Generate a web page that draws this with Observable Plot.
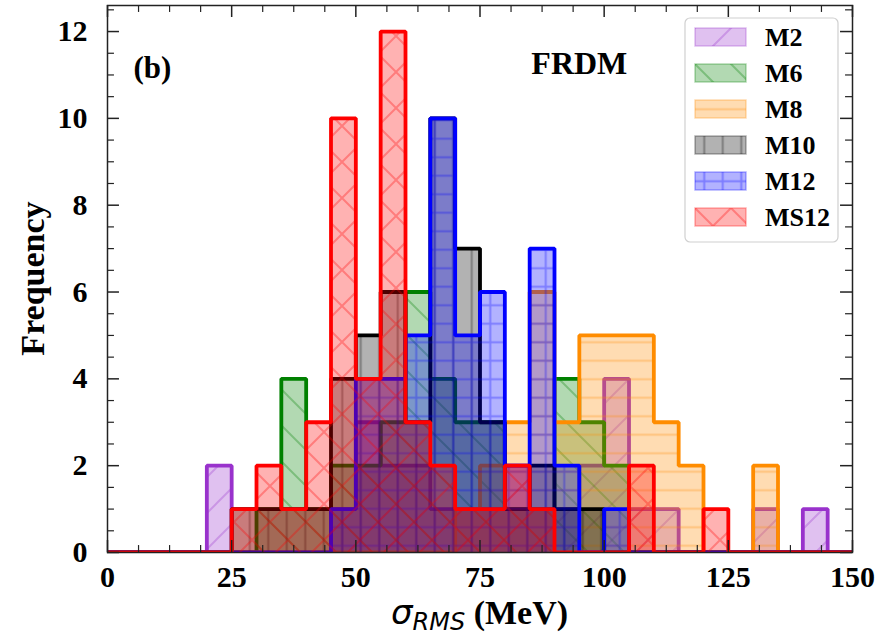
<!DOCTYPE html>
<html>
<head>
<meta charset="utf-8">
<script src="https://cdn.jsdelivr.net/npm/d3@7"></script>
<script src="https://cdn.jsdelivr.net/npm/@observablehq/plot@0.6"></script>
<style>
  body { margin: 0; background: #fff; }
  #chart { width: 887px; height: 636px; }
</style>
</head>
<body>
<div id="chart"></div>
<script>
// Histogram bins: 30 bins of 5 MeV from 0 to 150
const binStarts = d3.range(0, 150, 5);

// Counts per bin for each model
const countsM2   = [0,0,0,0,2,0,0,0,0,1,3,2,2,1,1,1,2,1,1,2,4,1,1,0,0,0,1,0,1,0];
const countsM6   = [0,0,0,0,0,0,1,4,1,2,2,3,6,4,3,3,1,1,4,3,2,0,0,0,0,0,0,0,0,0];
const countsM8   = [0,0,0,0,0,0,0,0,0,0,0,0,0,0,1,2,3,6,3,5,5,5,3,2,0,0,2,0,0,0];
const countsM10  = [0,0,0,0,0,1,1,1,1,4,5,6,3,10,7,3,1,2,1,1,0,0,0,0,0,0,0,0,0,0];
const countsM12  = [0,0,0,0,0,0,0,0,0,1,4,4,5,10,5,6,2,7,2,0,1,0,0,0,0,0,0,0,0,0];
const countsMS12 = [0,0,0,0,0,1,2,1,3,10,4,12,3,2,1,1,2,1,0,0,0,2,0,0,1,0,0,0,0,0];

const seriesNames  = ["M2", "M6", "M8", "M10", "M12", "MS12"];
const seriesColors = ["#9932cc", "#008000", "#ff8c00", "#000000", "#0000ff", "#ff0000"];
const seriesHatch  = ["ne", "nw", "horiz", "vert", "plus", "cross"];
const seriesCounts = [countsM2, countsM6, countsM8, countsM10, countsM12, countsMS12];

const xTickLabels = [0, 25, 50, 75, 100, 125, 150];
const yTickLabels = [0, 2, 4, 6, 8, 10, 12];
const xMinor = d3.range(0, 150.01, 6.25).filter(v => v % 25 !== 0);
const yMinor = d3.range(0, 12.6, 0.5).filter(v => v % 2 !== 0);

const X_MAX = 150, Y_MAX = 12.6;

// area points: one per bin start, plus the closing edge at 150
function areaPoints(counts) {
  const pts = binStarts.map((x, i) => ({x, y: counts[i]}));
  pts.push({x: X_MAX, y: counts[counts.length - 1]});
  return pts;
}
// outline points: the step path from the baseline, across the bins, back down
function outlinePoints(counts) {
  const pts = [{x: 0, y: 0}];
  binStarts.forEach((x, i) => pts.push({x, y: counts[i]}));
  pts.push({x: X_MAX, y: counts[counts.length - 1]});
  pts.push({x: X_MAX, y: 0});
  return pts;
}

const histMarks = [];
seriesNames.forEach((name, s) => {
  const col = seriesColors[s];
  const ap = areaPoints(seriesCounts[s]);
  histMarks.push(
    Plot.areaY(ap, {x: "x", y: "y", curve: "step-after", fill: col, fillOpacity: 0.3, clip: true}),
    Plot.areaY(ap, {x: "x", y: "y", curve: "step-after", fill: `url(#hatch-${name})`, clip: true}),
    Plot.line(outlinePoints(seriesCounts[s]), {x: "x", y: "y", curve: "step-after", stroke: col,
      strokeWidth: 3.8, strokeLinejoin: "miter", clip: true})
  );
});

const ML = 107, MR = 35, MT = 5, MB = 84;
const W = 887, H = 636;

const plot = Plot.plot({
  width: W,
  height: H,
  marginLeft: ML,
  marginRight: MR,
  marginTop: MT,
  marginBottom: MB,
  style: {fontFamily: "'Liberation Serif', 'Times New Roman', serif", fontWeight: "bold", background: "#fff", color: "#111"},
  x: {domain: [0, X_MAX]},
  y: {domain: [0, Y_MAX]},
  marks: [
    ...histMarks,
    // inward ticks on all four sides
    Plot.ruleX(xTickLabels, {y1: 0, y2: 0.277, stroke: "#222", strokeWidth: 1.5}),
    Plot.ruleX(xTickLabels, {y1: Y_MAX - 0.277, y2: Y_MAX, stroke: "#222", strokeWidth: 1.5}),
    Plot.ruleX(xMinor, {y1: 0, y2: 0.16, stroke: "#222", strokeWidth: 1.2}),
    Plot.ruleX(xMinor, {y1: Y_MAX - 0.16, y2: Y_MAX, stroke: "#222", strokeWidth: 1.2}),
    Plot.ruleY(yTickLabels, {x1: 0, x2: 2.41, stroke: "#222", strokeWidth: 1.5}),
    Plot.ruleY(yTickLabels, {x1: X_MAX - 2.41, x2: X_MAX, stroke: "#222", strokeWidth: 1.5}),
    Plot.ruleY(yMinor, {x1: 0, x2: 1.4, stroke: "#222", strokeWidth: 1.2}),
    Plot.ruleY(yMinor, {x1: X_MAX - 1.4, x2: X_MAX, stroke: "#222", strokeWidth: 1.2}),
    Plot.frame({stroke: "#222", strokeWidth: 1.5}),
    Plot.axisX(xTickLabels, {tickSize: 0, tickPadding: 13, fontSize: 30, label: null, fill: "#000"}),
    Plot.axisY(yTickLabels, {tickSize: 0, tickPadding: 20, fontSize: 30, label: null, fill: "#000"}),
    Plot.text(["(b)"], {frameAnchor: "top-left", dx: 26, dy: 63, fontSize: 31, textAnchor: "start", fill: "#000", lineAnchor: "middle"}),
    Plot.text(["FRDM"], {x: 95, y: 11.25, fontSize: 32, fill: "#000", lineAnchor: "middle"})
  ]
});

const svg = d3.select(plot);

// hatch patterns
const defs = svg.insert("defs", ":first-child");
const hatchPaths = {
  ne:    {size: 36, d: "M-9,9L9,-9M0,36L36,0M27,45L45,27"},
  nw:    {size: 36, d: "M-9,27L9,45M0,0L36,36M27,-9L45,9"},
  horiz: {size: 18.5, d: "M0,9.25H18.5"},
  vert:  {size: 18.5, d: "M9.25,0V18.5"},
  plus:  {size: 18.5, d: "M0,9.25H18.5M9.25,0V18.5"},
  cross: {size: 36, d: "M-9,9L9,-9M0,36L36,0M27,45L45,27M-9,27L9,45M0,0L36,36M27,-9L45,9"}
};
seriesNames.forEach((name, s) => {
  const hp = hatchPaths[seriesHatch[s]];
  defs.append("pattern")
    .attr("id", `hatch-${name}`)
    .attr("patternUnits", "userSpaceOnUse")
    .attr("width", hp.size).attr("height", hp.size)
    .append("path")
    .attr("d", hp.d)
    .attr("stroke", seriesColors[s])
    .attr("stroke-opacity", 0.3)
    .attr("stroke-width", 2)
    .attr("fill", "none");
});

// axis titles
svg.append("text")
  .attr("transform", `translate(32,${MT + (H - MT - MB) / 2}) rotate(-90)`)
  .attr("text-anchor", "middle")
  .attr("dominant-baseline", "central")
  .attr("font-family", "'Liberation Serif', serif")
  .attr("font-weight", "bold")
  .attr("font-size", 34)
  .attr("fill", "#000")
  .text("Frequency");

const xl = svg.append("text")
  .attr("x", ML + (W - ML - MR) / 2)
  .attr("y", 624)
  .attr("text-anchor", "middle")
  .attr("fill", "#000");
xl.append("tspan").attr("font-family", "'DejaVu Sans', sans-serif").attr("font-style", "italic")
  .attr("font-weight", "normal").attr("font-size", 34).text("σ");
xl.append("tspan").attr("font-family", "'DejaVu Sans', sans-serif").attr("font-style", "italic")
  .attr("font-weight", "normal").attr("font-size", 24).attr("dy", 6).text("RMS");
xl.append("tspan").attr("font-family", "'Liberation Serif', serif").attr("font-weight", "bold")
  .attr("font-size", 34).attr("dy", -6).text(" (MeV)");

// legend
const lg = svg.append("g").attr("transform", "translate(685,18)");
lg.append("rect").attr("width", 153).attr("height", 224).attr("rx", 5)
  .attr("fill", "#fff").attr("fill-opacity", 0.85).attr("stroke", "#d0d0d0").attr("stroke-width", 1.2);
seriesNames.forEach((name, s) => {
  const cy = 19 + s * 36;
  const g = lg.append("g").attr("transform", `translate(10,${cy - 9})`);
  g.append("rect").attr("width", 51).attr("height", 18)
    .attr("fill", seriesColors[s]).attr("fill-opacity", 0.3)
    .attr("stroke", seriesColors[s]).attr("stroke-opacity", 0.3).attr("stroke-width", 1.5);
  g.append("rect").attr("width", 51).attr("height", 18).attr("fill", `url(#hatch-${name})`);
  lg.append("text").attr("x", 80).attr("y", cy).attr("dominant-baseline", "central")
    .attr("text-anchor", "start")
    .attr("font-family", "'Liberation Serif', serif").attr("font-weight", "bold")
    .attr("font-size", 26).attr("fill", "#000").text(name);
});

document.getElementById("chart").appendChild(plot);
</script>
</body>
</html>
